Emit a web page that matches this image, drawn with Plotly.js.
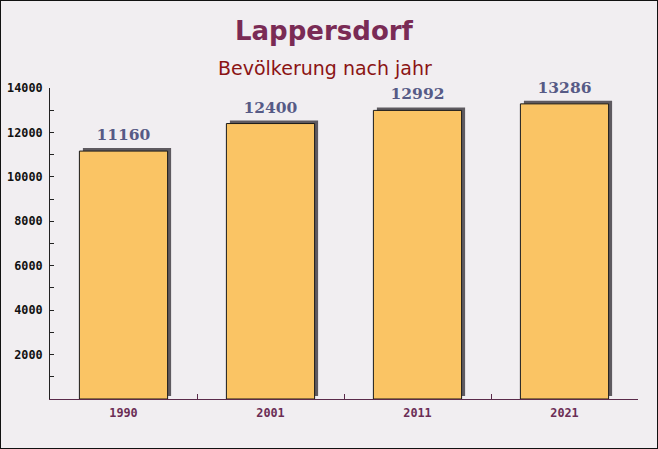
<!DOCTYPE html>
<html>
<head>
<meta charset="utf-8">
<script src="https://cdn.plot.ly/plotly-3.0.1.min.js"></script>
<style>
  html, body { margin: 0; padding: 0; background: #f1eef1; }
  #wrap { position: relative; width: 658px; height: 449px; }
  #chart { width: 658px; height: 449px; }
  #frame { position: absolute; left: 0; top: 0; width: 656px; height: 447px; border: 1px solid #111; pointer-events: none; }
</style>
</head>
<body>
<div id="wrap"><div id="chart"></div><div id="frame"></div></div>
<script>
const years = ['1990', '2001', '2011', '2021'];
const population = [11160, 12400, 12992, 13286];
const yTickValues = [2000, 4000, 6000, 8000, 10000, 12000, 14000];
const yTickLabels = ['2000', '4000', '6000', '8000', '10000', '12000', '14000'];
const titleText = 'Lappersdorf';
const subtitleText = 'Bevölkerung nach jahr';

const plotHeightPx = 311;
const yMax = 14000;
const pxToValue = yMax / plotHeightPx;
const shadowShift = 3 * pxToValue;
const labelShift = 4 * pxToValue;

const shadow = {
  type: 'bar', x: years, y: population,
  xaxis: 'x', yaxis: 'y',
  width: 0.6, offset: -0.3 + 3.5 / 147,
  marker: { color: '#5e5a60', line: { width: 0 } },
  hoverinfo: 'skip', showlegend: false
};

const bars = {
  type: 'bar', x: years, y: population,
  xaxis: 'x', yaxis: 'y2',
  width: 0.6, offset: -0.3,
  marker: { color: '#fac464', line: { color: '#1a1a1a', width: 1 } },
  hoverinfo: 'skip', showlegend: false
};

const labels = {
  type: 'bar', x: years, y: population,
  xaxis: 'x', yaxis: 'y3',
  width: 0.6, offset: -0.3,
  marker: { color: 'rgba(0,0,0,0)', line: { width: 0 } },
  text: population.map(String),
  textposition: 'outside',
  cliponaxis: false,
  textfont: { family: 'DejaVu Serif', size: 15.5, color: '#565a86', weight: 'bold' },
  hoverinfo: 'skip', showlegend: false
};

const layout = {
  width: 658, height: 449,
  margin: { l: 50, r: 20, t: 88, b: 50, pad: 0 },
  paper_bgcolor: '#f1eef1',
  plot_bgcolor: 'rgba(0,0,0,0)',
  barmode: 'overlay',
  showlegend: false,
  xaxis: {
    type: 'category', range: [-0.5, 3.5],
    tickson: 'boundaries', ticks: 'inside', ticklen: 5, tickcolor: '#5a2a4a',
    showline: true, linecolor: '#5a2a4a', linewidth: 1,
    showgrid: false, zeroline: false,
    ticklabelstandoff: 3,
    tickfont: { family: 'DejaVu Sans Mono', size: 11.8, color: '#6b2d55', weight: 'bold' },
    fixedrange: true
  },
  yaxis: {
    range: [-shadowShift, yMax - shadowShift],
    visible: false, showgrid: false, zeroline: false, fixedrange: true
  },
  yaxis2: {
    overlaying: 'y', side: 'left',
    range: [0, yMax],
    tickmode: 'array', tickvals: yTickValues, ticktext: yTickLabels,
    ticks: 'inside', ticklen: 4, tickcolor: '#222',
    minor: { tickmode: 'linear', tick0: 0, dtick: 1000, ticks: 'inside', ticklen: 4, tickcolor: '#222' },
    showline: true, linecolor: '#222', linewidth: 1,
    showgrid: false, zeroline: false,
    ticklabelstandoff: 4,
    tickfont: { family: 'DejaVu Sans Mono', size: 11.8, color: '#111', weight: 'bold' },
    fixedrange: true
  },
  yaxis3: {
    overlaying: 'y', range: [-labelShift, yMax - labelShift],
    visible: false, showgrid: false, zeroline: false, fixedrange: true
  },
  annotations: [
    { text: titleText, xref: 'paper', yref: 'paper', x: 0.467, y: 1 + 57 / plotHeightPx,
      xanchor: 'center', yanchor: 'middle', showarrow: false,
      font: { family: 'DejaVu Sans', size: 26, color: '#7a2b55', weight: 'bold' } },
    { text: subtitleText, xref: 'paper', yref: 'paper', x: 0.467, y: 1 + 20 / plotHeightPx,
      xanchor: 'center', yanchor: 'middle', showarrow: false,
      font: { family: 'DejaVu Sans', size: 19, color: '#8b1414' } }
  ]
};

Plotly.newPlot('chart', [shadow, bars, labels], layout, { displayModeBar: false, staticPlot: true });
</script>
</body>
</html>
